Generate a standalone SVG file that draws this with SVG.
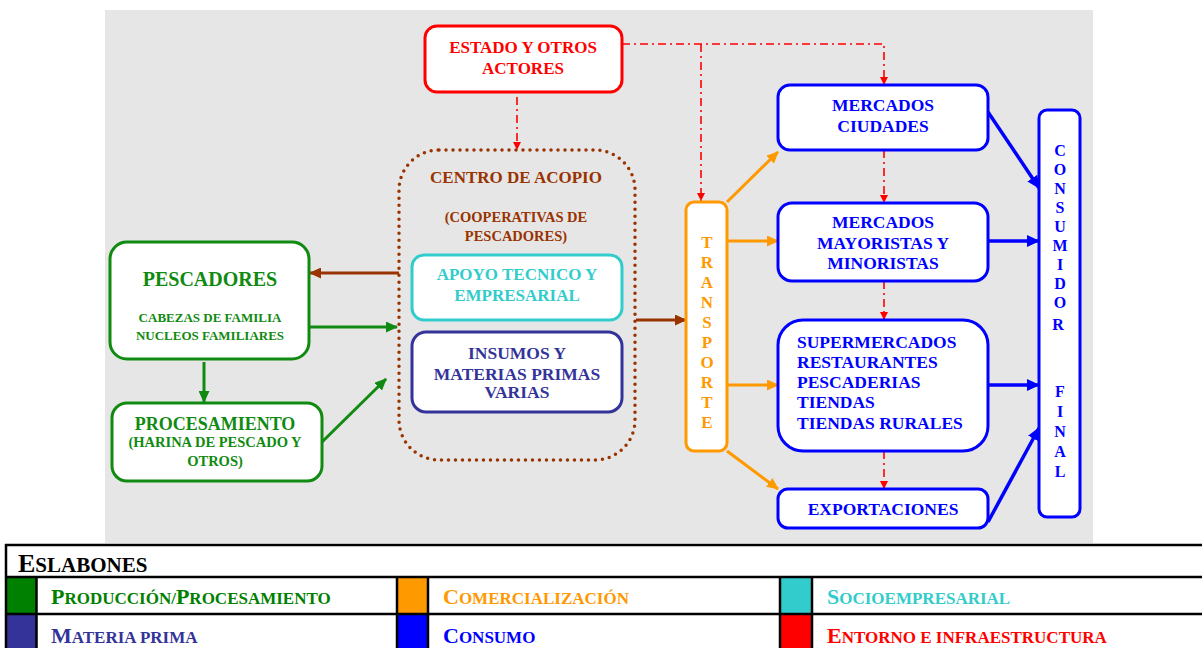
<svg xmlns="http://www.w3.org/2000/svg" width="1202" height="648" viewBox="0 0 1202 648">
<style>
.t{font-family:"Liberation Serif","Times New Roman",serif;font-weight:bold;}
.box{fill:#fff;stroke-width:3;}
.c{text-anchor:middle;}
.grn{fill:#108a10;}
.brn{fill:#993300;}
.tea{fill:#33CCCC;}
.nav{fill:#333399;}
.blu{fill:#0000FF;}
.red{fill:#FF0000;}
.org{fill:#FF9900;}
.dd{fill:none;stroke:#FF0000;stroke-width:1.6;stroke-dasharray:8 4 2 4;}
.tl{stroke:#000;stroke-width:2.5;}
.big{font-size:22px;}
.sm{font-size:17px;}
</style>
<defs>
<marker id="mg" markerWidth="12" markerHeight="11" refX="11" refY="5.5" orient="auto" markerUnits="userSpaceOnUse"><path d="M0,0 L12,5.5 L0,11 z" fill="#108a10"/></marker>
<marker id="mb" markerWidth="12" markerHeight="11" refX="11" refY="5.5" orient="auto" markerUnits="userSpaceOnUse"><path d="M0,0 L12,5.5 L0,11 z" fill="#993300"/></marker>
<marker id="mo" markerWidth="12" markerHeight="11" refX="11" refY="5.5" orient="auto" markerUnits="userSpaceOnUse"><path d="M0,0 L12,5.5 L0,11 z" fill="#FF9900"/></marker>
<marker id="mu" markerWidth="13" markerHeight="12" refX="12" refY="6" orient="auto" markerUnits="userSpaceOnUse"><path d="M0,0 L13,6 L0,12 z" fill="#0000FF"/></marker>
<marker id="mr" markerWidth="8" markerHeight="8" refX="8" refY="4" orient="auto" markerUnits="userSpaceOnUse"><path d="M0,0 L8,4 L0,8 z" fill="#FF0000"/></marker>
</defs>

<rect x="105" y="10" width="988" height="533" fill="#E6E6E6"/>

<g id="connectors">
<g stroke="#993300" stroke-width="3" fill="none">
<line x1="399" y1="273" x2="310" y2="273" marker-end="url(#mb)"/>
<line x1="636" y1="320" x2="686" y2="320" marker-end="url(#mb)"/>
</g>
<g stroke="#108a10" stroke-width="3" fill="none">
<line x1="309" y1="327" x2="397" y2="327" marker-end="url(#mg)"/>
<line x1="204" y1="362" x2="204" y2="402" marker-end="url(#mg)"/>
<line x1="322" y1="442" x2="386" y2="379" marker-end="url(#mg)"/>
</g>
<g stroke="#FF9900" stroke-width="3" fill="none">
<line x1="727" y1="202" x2="778" y2="152" marker-end="url(#mo)"/>
<line x1="727" y1="241" x2="778" y2="241" marker-end="url(#mo)"/>
<line x1="727" y1="385" x2="778" y2="385" marker-end="url(#mo)"/>
<line x1="727" y1="451" x2="778" y2="489" marker-end="url(#mo)"/>
</g>
<g stroke="#0000FF" stroke-width="3.5" fill="none">
<line x1="988" y1="112" x2="1039" y2="188" marker-end="url(#mu)"/>
<line x1="988" y1="241" x2="1039" y2="241" marker-end="url(#mu)"/>
<line x1="988" y1="385" x2="1039" y2="385" marker-end="url(#mu)"/>
<line x1="988" y1="522" x2="1039" y2="428" marker-end="url(#mu)"/>
</g>
<polyline class="dd" points="622,44 884,44 884,85" marker-end="url(#mr)"/>
<line class="dd" x1="701" y1="44" x2="701" y2="201" marker-end="url(#mr)"/>
<line class="dd" x1="517" y1="97" x2="517" y2="150" marker-end="url(#mr)"/>
<line class="dd" x1="884" y1="150" x2="884" y2="203" marker-end="url(#mr)"/>
<line class="dd" x1="884" y1="281" x2="884" y2="320" marker-end="url(#mr)"/>
<line class="dd" x1="884" y1="451" x2="884" y2="489" marker-end="url(#mr)"/>
</g>

<g id="estado">
<rect class="box" x="425" y="26" width="197" height="66" rx="12" stroke="#FF0000"/>
<text class="t c red" x="523" y="53" font-size="17">ESTADO Y OTROS</text>
<text class="t c red" x="523" y="74" font-size="17">ACTORES</text>
</g>

<g id="centro">
<rect x="399" y="150" width="236" height="310" rx="40" fill="none" stroke="#993300" stroke-width="3.5" stroke-linecap="round" stroke-dasharray="0 7"/>
<text class="t c brn" x="516" y="183" font-size="17">CENTRO DE ACOPIO</text>
<text class="t c brn" x="516" y="222" font-size="14.5">(COOPERATIVAS DE</text>
<text class="t c brn" x="516" y="241" font-size="14.5">PESCADORES)</text>
</g>

<g id="apoyo">
<rect class="box" x="412" y="255" width="210" height="65" rx="12" stroke="#33CCCC"/>
<text class="t c tea" x="517" y="280" font-size="17">APOYO TECNICO Y</text>
<text class="t c tea" x="517" y="301" font-size="17">EMPRESARIAL</text>
</g>

<g id="insumos">
<rect class="box" x="412" y="332" width="210" height="80" rx="14" stroke="#333399"/>
<text class="t c nav" x="517" y="359" font-size="17.5">INSUMOS Y</text>
<text class="t c nav" x="517" y="380" font-size="17.5">MATERIAS PRIMAS</text>
<text class="t c nav" x="517" y="398" font-size="17.5">VARIAS</text>
</g>

<g id="pescadores">
<rect class="box" x="110" y="242" width="199" height="117" rx="17" stroke="#108a10"/>
<text class="t c grn" x="210" y="286" font-size="20">PESCADORES</text>
<text class="t c grn" x="210" y="322" font-size="13">CABEZAS DE FAMILIA</text>
<text class="t c grn" x="210" y="340" font-size="13">NUCLEOS FAMILIARES</text>
</g>

<g id="procesamiento">
<rect class="box" x="112" y="403" width="210" height="78" rx="15" stroke="#108a10"/>
<text class="t c grn" x="215" y="430" font-size="18">PROCESAMIENTO</text>
<text class="t c grn" x="215" y="447" font-size="14.5">(HARINA DE PESCADO Y</text>
<text class="t c grn" x="215" y="466" font-size="14.5">OTROS)</text>
</g>

<g id="transporte">
<rect class="box" x="686" y="202" width="41" height="249" rx="8" stroke="#FF9900"/>
<text class="t c org" font-size="17">
<tspan x="707" y="248">T</tspan><tspan x="707" y="268">R</tspan><tspan x="707" y="288">A</tspan><tspan x="707" y="308">N</tspan><tspan x="707" y="328">S</tspan><tspan x="707" y="348">P</tspan><tspan x="707" y="368">O</tspan><tspan x="707" y="388">R</tspan><tspan x="707" y="408">T</tspan><tspan x="707" y="428">E</tspan>
</text>
</g>

<g id="ciudades">
<rect class="box" x="778" y="85" width="210" height="65" rx="12" stroke="#0000FF"/>
<text class="t c blu" x="883" y="111" font-size="17.5">MERCADOS</text>
<text class="t c blu" x="883" y="132" font-size="17.5">CIUDADES</text>
</g>

<g id="mayoristas">
<rect class="box" x="778" y="203" width="210" height="78" rx="14" stroke="#0000FF"/>
<text class="t c blu" x="883" y="228" font-size="17.5">MERCADOS</text>
<text class="t c blu" x="883" y="249" font-size="17.5">MAYORISTAS Y</text>
<text class="t c blu" x="883" y="269" font-size="17.5">MINORISTAS</text>
</g>

<g id="supermercados">
<rect class="box" x="778" y="320" width="210" height="131" rx="25" stroke="#0000FF"/>
<text class="t blu" x="797" y="348" font-size="17.5">SUPERMERCADOS</text>
<text class="t blu" x="797" y="368" font-size="17.5">RESTAURANTES</text>
<text class="t blu" x="797" y="388" font-size="17.5">PESCADERIAS</text>
<text class="t blu" x="797" y="408" font-size="17.5">TIENDAS</text>
<text class="t blu" x="797" y="429" font-size="17.5">TIENDAS RURALES</text>
</g>

<g id="exportaciones">
<rect class="box" x="778" y="489" width="210" height="39" rx="10" stroke="#0000FF"/>
<text class="t c blu" x="883" y="515" font-size="17.5">EXPORTACIONES</text>
</g>

<g id="consumidor">
<rect class="box" x="1039" y="110" width="41" height="407" rx="8" stroke="#0000FF"/>
<text class="t c blu" font-size="16">
<tspan x="1060" y="156">C</tspan><tspan x="1060" y="175">O</tspan><tspan x="1060" y="194">N</tspan><tspan x="1060" y="213">S</tspan><tspan x="1060" y="232">U</tspan><tspan x="1060" y="251">M</tspan><tspan x="1060" y="270">I</tspan><tspan x="1060" y="289">D</tspan><tspan x="1060" y="308">O</tspan><tspan x="1060" y="330">R</tspan>
<tspan x="1060" y="397">F</tspan><tspan x="1060" y="417">I</tspan><tspan x="1060" y="437">N</tspan><tspan x="1060" y="457">A</tspan><tspan x="1060" y="477">L</tspan>
</text>
</g>

<g id="legend">
<rect x="6" y="545" width="1196" height="103" fill="#fff"/>
<rect x="7" y="578" width="29" height="36" fill="#008000"/>
<rect x="7" y="615" width="29" height="33" fill="#333399"/>
<rect x="398" y="578" width="30" height="36" fill="#FF9900"/>
<rect x="398" y="615" width="30" height="33" fill="#0000FF"/>
<rect x="781" y="578" width="31" height="36" fill="#33CCCC"/>
<rect x="781" y="615" width="31" height="33" fill="#FF0000"/>
<line class="tl" x1="5" y1="545" x2="1202" y2="545"/>
<line class="tl" x1="5" y1="577" x2="1202" y2="577"/>
<line class="tl" x1="5" y1="614" x2="1202" y2="614"/>
<line class="tl" x1="6" y1="544" x2="6" y2="648"/>
<line class="tl" x1="36.5" y1="577" x2="36.5" y2="648"/>
<line class="tl" x1="397" y1="577" x2="397" y2="648"/>
<line class="tl" x1="428" y1="577" x2="428" y2="648"/>
<line class="tl" x1="780" y1="577" x2="780" y2="648"/>
<line class="tl" x1="812" y1="577" x2="812" y2="648"/>
<text class="t" x="18" y="572" fill="#000"><tspan font-size="26">E</tspan><tspan font-size="21">SLABONES</tspan></text>
<text class="t" x="51" y="604" fill="#008000"><tspan class="big">P</tspan><tspan class="sm">RODUCCIÓN/</tspan><tspan class="big">P</tspan><tspan class="sm">ROCESAMIENTO</tspan></text>
<text class="t" x="51" y="643" fill="#333399"><tspan class="big">M</tspan><tspan class="sm">ATERIA PRIMA</tspan></text>
<text class="t" x="443" y="604" fill="#FF9900"><tspan class="big">C</tspan><tspan class="sm">OMERCIALIZACIÓN</tspan></text>
<text class="t" x="443" y="643" fill="#0000FF"><tspan class="big">C</tspan><tspan class="sm">ONSUMO</tspan></text>
<text class="t" x="827" y="604" fill="#33CCCC"><tspan class="big">S</tspan><tspan class="sm">OCIOEMPRESARIAL</tspan></text>
<text class="t" x="827" y="643" fill="#FF0000"><tspan class="big">E</tspan><tspan class="sm">NTORNO E INFRAESTRUCTURA</tspan></text>
</g>
</svg>
